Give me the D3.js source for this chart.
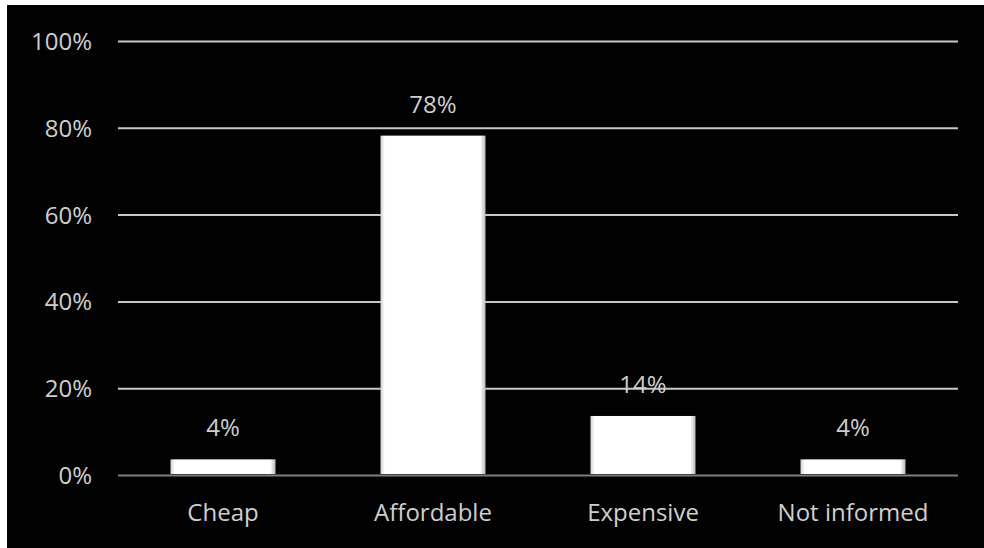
<!DOCTYPE html>
<html>
<head>
<meta charset="utf-8">
<script src="https://cdn.jsdelivr.net/npm/d3@7"></script>
<style>
  html, body { margin: 0; padding: 0; background: #fff; }
  svg { display: block; }
</style>
</head>
<body>
<div id="chart"></div>
<script>
var categories = ["Cheap", "Affordable", "Expensive", "Not informed"]
var values = [3.6, 78.2, 13.6, 3.6]
var tickValues = [0, 20, 40, 60, 80, 100]

var W = 984, H = 548
var margin = {top: 41, right: 26, bottom: 73, left: 118},
    width = W - margin.left - margin.right,
    height = H - margin.top - margin.bottom

var root = d3.select("#chart").append("svg")
    .attr("width", W)
    .attr("height", H)

// black panel, white strip on top and left like the source
root.append("rect")
    .attr("x", 7).attr("y", 5)
    .attr("width", W - 7).attr("height", H - 5)
    .attr("fill", "#020202")

var defs = root.append("defs")
var grad = defs.append("linearGradient").attr("id", "barGrad")
    .attr("x1", 0).attr("x2", 1).attr("y1", 0).attr("y2", 0)
grad.append("stop").attr("offset", "0%").attr("stop-color", "#cfcfcf")
grad.append("stop").attr("offset", "4%").attr("stop-color", "#ffffff")
grad.append("stop").attr("offset", "95%").attr("stop-color", "#ffffff")
grad.append("stop").attr("offset", "100%").attr("stop-color", "#b8b8b8")

var svg = root.append("g")
    .attr("transform", "translate(" + margin.left + "," + margin.top + ")")

var x = d3.scaleBand().domain(categories).range([0, width]).paddingInner(0.5).paddingOuter(0.25)
var y = d3.scaleLinear().domain([0, 100]).range([height, 0])

var font = "'Open Sans', sans-serif"
var textColor = "#cfcfcf"
var fontSize = "24px"

// gridlines
var yAxis = d3.axisLeft(y).tickValues(tickValues).tickSize(-width).tickFormat(function(d) { return d + "%" })
var gy = svg.append("g").call(yAxis)
gy.select(".domain").remove()
gy.selectAll(".tick line")
    .attr("stroke", function(d) { return d === 0 ? "#7f7f7f" : "#c8c8c8" })
    .attr("stroke-width", 2)
gy.selectAll(".tick text")
    .attr("x", -26)
    .attr("dy", "0.35em")
    .attr("fill", textColor)
    .style("font-family", font)
    .style("font-size", fontSize)

// bars
svg.selectAll(".bar")
    .data(values)
  .enter().append("rect")
    .attr("class", "bar")
    .attr("x", function(d, i) { return x(categories[i]) })
    .attr("y", function(d) { return y(d) })
    .attr("width", x.bandwidth())
    .attr("height", function(d) { return height - y(d) - 1 })
    .attr("fill", "url(#barGrad)")

// value labels
svg.selectAll(".val")
    .data(values)
  .enter().append("text")
    .attr("class", "val")
    .attr("x", function(d, i) { return x(categories[i]) + x.bandwidth() / 2 })
    .attr("y", function(d) { return y(d) - 23 })
    .attr("text-anchor", "middle")
    .attr("fill", textColor)
    .style("font-family", font)
    .style("font-size", fontSize)
    .text(function(d) { return Math.round(d) + "%" })

// category labels
var xAxis = d3.axisBottom(x).tickSize(0)
var gx = svg.append("g").attr("transform", "translate(0," + height + ")").call(xAxis)
gx.select(".domain").remove()
gx.selectAll(".tick text")
    .attr("y", 46)
    .attr("dy", 0)
    .attr("fill", textColor)
    .style("font-family", font)
    .style("font-size", fontSize)
</script>
</body>
</html>
